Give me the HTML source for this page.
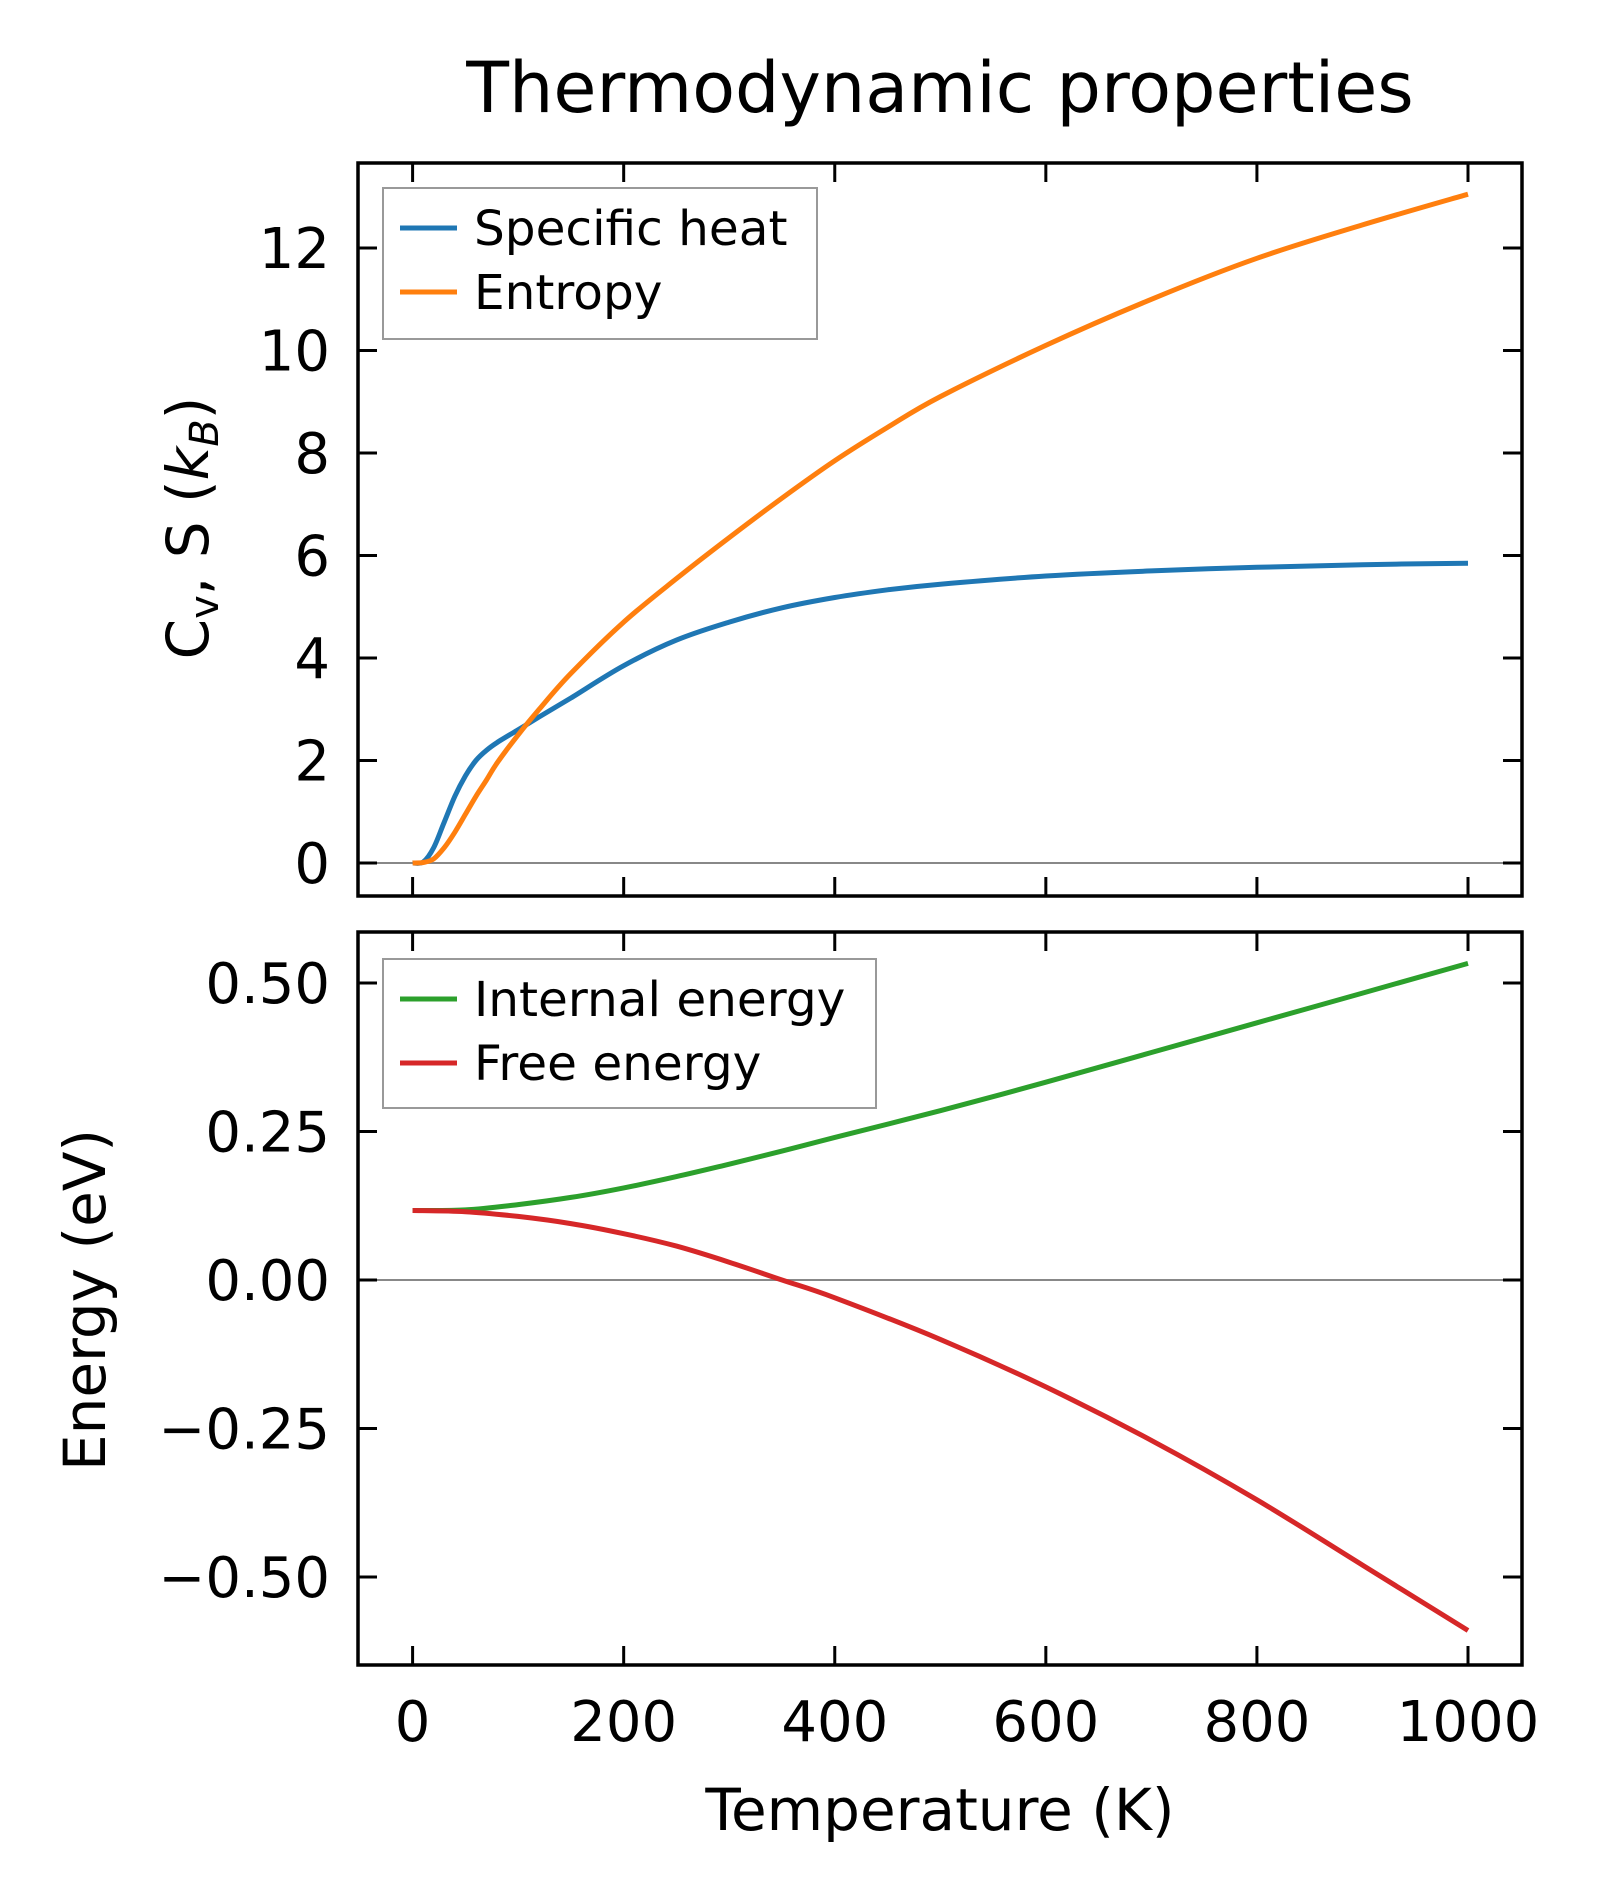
<!DOCTYPE html>
<html><head><meta charset="utf-8"><style>
html,body{margin:0;padding:0;background:#fff;}
svg{display:block;font-family:"DejaVu Sans","Liberation Sans",sans-serif;}
</style></head><body>
<svg id="chart" width="1602" height="1901" viewBox="0 0 1602 1901" xmlns="http://www.w3.org/2000/svg">
<rect width="1602" height="1901" fill="#fff"/>
<text x="940" y="112" font-size="70" text-anchor="middle">Thermodynamic properties</text>
<g id="g"></g>
</svg>
<script>
const temps = [0,10,20,30,40,50,60,70,80,100,120,150,200,250,300,350,400,450,500,600,700,800,900,1000];
const cvVals = [0,0.02,0.3,0.8,1.3,1.7,2.0,2.2,2.35,2.6,2.85,3.22,3.85,4.35,4.7,4.98,5.18,5.33,5.44,5.6,5.7,5.77,5.82,5.85];
const sVals = [0,0.01,0.08,0.3,0.6,0.95,1.3,1.62,1.95,2.5,3.0,3.7,4.7,5.55,6.35,7.12,7.85,8.5,9.1,10.1,11.0,11.8,12.45,13.05];
const eTemps = [0,50,100,150,200,250,300,350,400,500,600,700,800,900,1000];
const uVals = [0.117,0.118,0.127,0.139,0.155,0.174,0.195,0.217,0.24,0.285,0.333,0.383,0.433,0.483,0.533];
const fVals = [0.117,0.115,0.107,0.095,0.078,0.057,0.03,0.0,-0.03,-0.1,-0.18,-0.27,-0.37,-0.48,-0.59];
const xTicks = [0,200,400,600,800,1000];
const topTicks = [0,2,4,6,8,10,12];
const botTicks = [0.5,0.25,0,-0.25,-0.5];
const botTickLabels = ["0.50","0.25","0.00","\u22120.25","\u22120.50"];

const NS="http://www.w3.org/2000/svg";
const g=document.getElementById('g');
function mk(tag,attrs,parent){const e=document.createElementNS(NS,tag);for(const k in attrs)e.setAttribute(k,attrs[k]);(parent||g).appendChild(e);return e;}
const L=358,R=1522;
const x=t=>412.6+t*1.0554;
const yTop=v=>863-v*51.25;
const yBot=v=>1280-v*594;
const panels=[{top:163,bot:896,y:yTop,ticks:topTicks,labels:topTicks.map(String),name:'top'},
              {top:932,bot:1665,y:yBot,ticks:botTicks,labels:botTickLabels,name:'bottom'}];
panels.forEach(p=>{
  let z=mk('line',{x1:L,x2:R,y1:p.y(0),y2:p.y(0),stroke:'#888',"stroke-width":2});
  
  
  xTicks.forEach(t=>{
    const tk=mk('path',{d:`M${x(t)},${p.bot}v-19M${x(t)},${p.top}v19`,stroke:'#000',"stroke-width":3});
    
    
  });
  p.ticks.forEach((v,i)=>{
    const tk=mk('path',{d:`M${L},${p.y(v)}h19M${R},${p.y(v)}h-19`,stroke:'#000',"stroke-width":3});
    
    
    const tl=mk('text',{x:330,y:p.y(v)+20,"font-size":56,"text-anchor":"end"});
    tl.textContent=p.labels[i];
    
    
  });
});
function line(xs,ys,yf,color,name){
  const P=xs.map((t,i)=>[x(t),yf(ys[i])]);
  let d='M'+P[0][0].toFixed(1)+','+P[0][1].toFixed(1);
  for(let i=0;i<P.length-1;i++){
    const p0=P[Math.max(0,i-1)],p1=P[i],p2=P[i+1],p3=P[Math.min(P.length-1,i+2)];
    const c1=[p1[0]+(p2[0]-p0[0])/6,p1[1]+(p2[1]-p0[1])/6];
    const c2=[p2[0]-(p3[0]-p1[0])/6,p2[1]-(p3[1]-p1[1])/6];
    d+=`C${c1[0].toFixed(1)},${c1[1].toFixed(1)} ${c2[0].toFixed(1)},${c2[1].toFixed(1)} ${p2[0].toFixed(1)},${p2[1].toFixed(1)}`;
  }
  const e=mk('path',{d:d,fill:'none',stroke:color,"stroke-width":5,"stroke-linejoin":"round"});
  
  
}
line(temps,cvVals,yTop,'#1f77b4','specific-heat-line');
line(temps,sVals,yTop,'#ff7f0e','entropy-line');
line(eTemps,uVals,yBot,'#2ca02c','internal-energy-line');
line(eTemps,fVals,yBot,'#d62728','free-energy-line');
panels.forEach(p=>{
  const f=mk('rect',{x:L,y:p.top,width:R-L,height:p.bot-p.top,fill:'none',stroke:'#000',"stroke-width":3.5});
  
  
});
xTicks.forEach(t=>{
  const tl=mk('text',{x:x(t),y:1741,"font-size":56,"text-anchor":"middle"});
  tl.textContent=String(t);
  
  
});
function legend(bx,by,bw,bh,items,name){
  const lg=mk('g',{});
  
  
  mk('rect',{x:bx,y:by,width:bw,height:bh,fill:'#fff',stroke:'#999',"stroke-width":2},lg);
  items.forEach((it,i)=>{
    const yy=by+40+i*64;
    mk('line',{x1:bx+17,x2:bx+74,y1:yy,y2:yy,stroke:it[1],"stroke-width":5},lg);
    const t=mk('text',{x:bx+91,y:yy+17,"font-size":48.5},lg);
    t.textContent=it[0];
  });
}
legend(383,188,434,151,[['Specific heat','#1f77b4'],['Entropy','#ff7f0e']],'top-legend');
legend(383,959,493,149,[['Internal energy','#2ca02c'],['Free energy','#d62728']],'bottom-legend');
</script>
<svg style="position:absolute;left:0;top:0" width="1602" height="1901">
<text x="940" y="1830" font-size="58" text-anchor="middle" font-family="DejaVu Sans, Liberation Sans, sans-serif">Temperature (K)</text>
<text transform="translate(208,528) rotate(-90)" font-size="58" text-anchor="middle" font-family="DejaVu Sans, Liberation Sans, sans-serif">C<tspan font-size="40" dy="10">v</tspan><tspan dy="-10">, S (</tspan><tspan font-style="italic">k</tspan><tspan font-size="40" font-style="italic" dy="10">B</tspan><tspan dy="-10">)</tspan></text>
<text transform="translate(105,1300) rotate(-90)" font-size="58" text-anchor="middle" font-family="DejaVu Sans, Liberation Sans, sans-serif">Energy (eV)</text>
</svg>
</body></html>
